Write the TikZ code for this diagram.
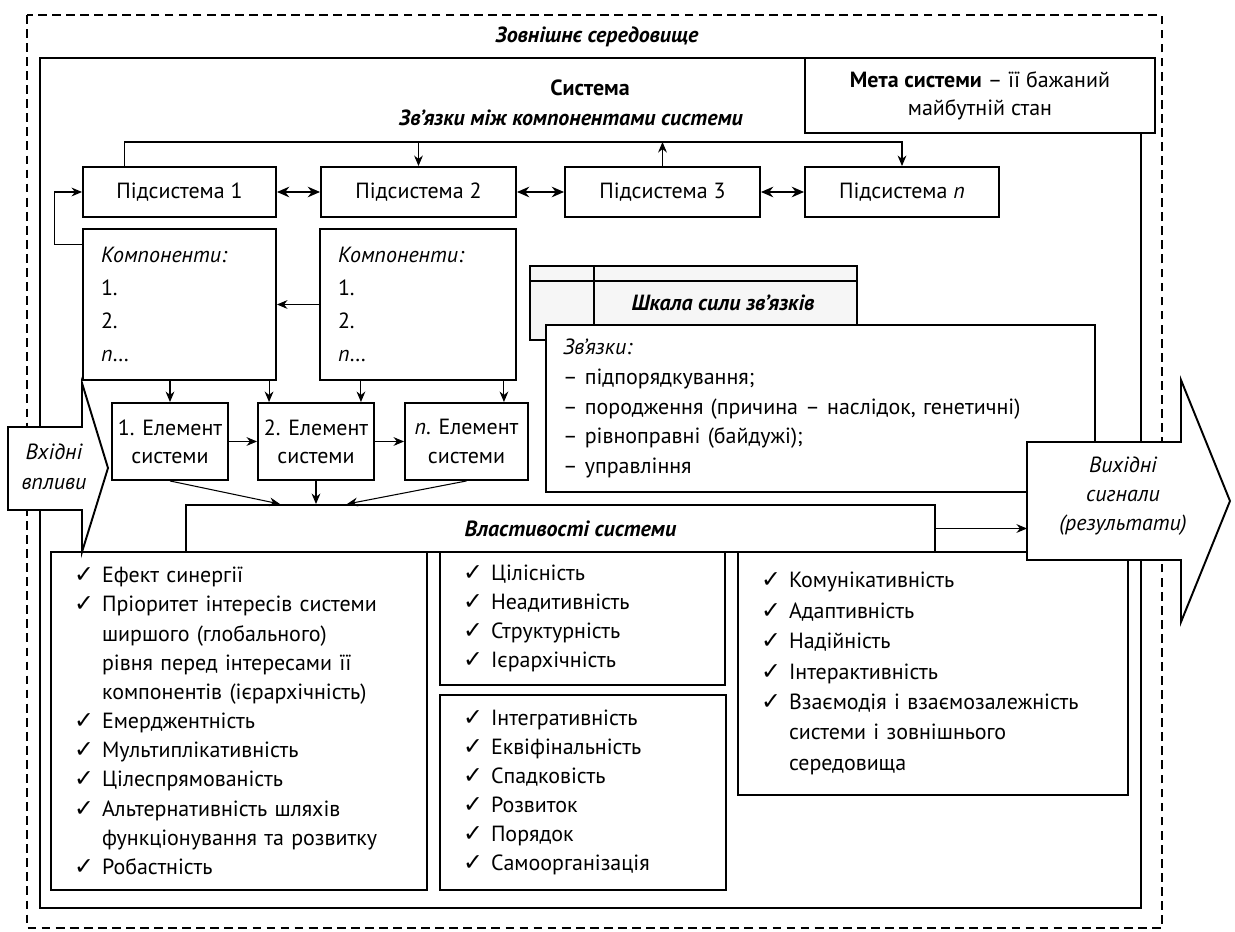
\documentclass[tikz,border=0pt]{standalone}
\usepackage{fontspec}
\setmainfont{PT Sans}
\newfontfamily\symfont{DejaVu Sans}
\usetikzlibrary{calc,arrows.meta}
\newcommand{\chk}{\makebox[0.56cm][l]{\symfont\fontsize{13.5}{12}\selectfont ✓}}
\newcommand{\ind}{\hspace*{0.56cm}}

\tikzset{
  box/.style={draw,line width=1.1pt,fill=white,inner sep=0pt,align=center},
  listbox/.style={draw,line width=1.1pt,fill=white,inner xsep=0.46cm,inner ysep=0pt,align=left,font=\fontsize{12.5}{16.6}\selectfont},
  heading/.style={font=\fontsize{12.5}{16}\selectfont\bfseries\itshape},
  conn/.style={line width=0.6pt,-{Stealth[length=6pt,width=5pt]}},
  dconn/.style={line width=1pt,{Stealth[length=7pt,width=6pt]}-{Stealth[length=7pt,width=6pt]}},
  flow/.style={line width=1.1pt,fill=white},
}

\begin{document}
\begin{tikzpicture}[x=0.02cm,y=-0.02cm,font=\fontsize{12.5}{16}\selectfont]
\useasboundingbox (0,0) rectangle (1235,932);

% environment and system
\draw[line width=1.1pt,dash pattern=on 5pt off 3pt] (27,15) rectangle (1162,928);
\draw[line width=1.1pt] (40,58) rectangle (1141,908);
\node[heading] (env) at (597,37) {Зовнішнє середовище};
\node[font=\fontsize{12.5}{16}\selectfont\bfseries] (sys) at (590,88) {Система};
\node[heading] (links) at (571,118) {Зв’язки між компонентами системи};
\node[box,minimum width=7cm,minimum height=1.5cm] (goal) at (980,95.5) {\textbf{Мета системи} – її бажаний\\майбутній стан};

% subsystems
\node[box,minimum width=3.86cm,minimum height=1cm] (sub1) at (179.5,192) {Підсистема 1};
\node[box,minimum width=3.9cm,minimum height=1cm] (sub2) at (418.5,192) {Підсистема 2};
\node[box,minimum width=3.9cm,minimum height=1cm] (sub3) at (662.5,192) {Підсистема 3};
\node[box,minimum width=3.88cm,minimum height=1cm] (subn) at (902,192) {Підсистема \textit{n}};
\coordinate (bus) at (0,142);
\draw[conn] ($(sub1.north west)+(42,0)$) |- (bus -| subn.north) -- (subn.north);
\draw[conn] (bus -| sub2.north) -- (sub2.north);
\draw[conn] (sub3.north) -- (bus -| sub3.north);
\draw[dconn] (sub1) -- (sub2);
\draw[dconn] (sub2) -- (sub3);
\draw[dconn] (sub3) -- (subn);

% components
\node[box,minimum width=3.86cm,minimum height=3.02cm,align=left,inner xsep=0.36cm,text width=3.14cm,font=\fontsize{12.5}{18.7}\selectfont] (comp1) at (179.5,304.5) {\textit{Компоненти:}\\1.\\2.\\\textit{n}…};
\node[box,minimum width=3.92cm,minimum height=3.02cm,align=left,inner xsep=0.36cm,text width=3.2cm,font=\fontsize{12.5}{18.7}\selectfont] (comp2) at (418,304.5) {\textit{Компоненти:}\\1.\\2.\\\textit{n}…};
\draw[conn] ($(comp1.north west)+(0,16)$) -- ++(-28,0) |- (sub1.west);
\draw[conn] (comp2) -- (comp1);

% elements
\node[box,minimum width=2.32cm,minimum height=1.54cm] (el1) at (170,441.5) {1. Елемент\\системи};
\node[box,minimum width=2.32cm,minimum height=1.54cm] (el2) at (316,441.5) {2. Елемент\\системи};
\node[box,minimum width=2.46cm,minimum height=1.54cm] (eln) at (466.5,441.5) {\textit{n}. Елемент\\системи};
\draw[conn] (el1) -- (el2);
\draw[conn] (el2) -- (eln);
\coordinate (a2) at ($(el2.north west)+(12,0)$);
\coordinate (b2) at ($(el2.north east)+(-14,0)$);
\coordinate (bn) at ($(eln.north east)+(-25,0)$);
\draw[conn] (el1.north |- comp1.south) -- (el1.north);
\draw[conn] (a2 |- comp1.south) -- (a2);
\draw[conn] (b2 |- comp2.south) -- (b2);
\draw[conn] (bn |- comp2.south) -- (bn);

% properties
\node[box,minimum width=14.98cm,minimum height=0.94cm,heading] (props) at (560.5,528.5) {\hspace*{0.4cm}Властивості системи};
\coordinate (p2) at (el2.south |- props.north);
\coordinate (p1) at ($(p2)+(-36,0)$);
\coordinate (p3) at ($(p2)+(31,0)$);
\draw[conn] (el1.south) -- (p1);
\draw[conn] (el2.south) -- (p2);
\draw[conn] (eln.south) -- (p3);

% scale of links
\draw[line width=0.9pt,fill=gray!7] (530,266) rectangle (857,340);
\draw[line width=0.9pt] (530,281) -- (857,281) (594,266) -- (594,340);
\node[heading] (scale) at (723,303) {Шкала сили зв’язків};
\node[box,minimum width=10.98cm,minimum height=3.34cm,align=left,inner xsep=0.34cm,text width=10.3cm,font=\fontsize{12.5}{17}\selectfont] (kinds) at (820.5,408.5) {\textit{Зв’язки:}\\– підпорядкування;\\– породження (причина – наслідок, генетичні)\\– рівноправні (байдужі);\\– управління};

% lists
\node[listbox,minimum width=7.52cm,minimum height=6.76cm,text width=6.6cm] (list1) at (239,721) {\chk Ефект синергії\\\chk Пріоритет інтересів системи\\\ind ширшого (глобального)\\\ind рівня перед інтересами її\\\ind компонентів (ієрархічність)\\\chk Емерджентність\\\chk Мультиплікативність\\\chk Цілеспрямованість\\\chk Альтернативність шляхів\\\ind функціонування та розвитку\\\chk Робастність};
\node[listbox,minimum width=5.7cm,minimum height=2.66cm,text width=4.78cm] (list2) at (582.5,618.5) {\chk Цілісність\\\chk Неадитивність\\\chk Структурність\\\chk Ієрархічність};
\node[listbox,minimum width=5.72cm,minimum height=3.9cm,text width=4.8cm] (list3) at (583,792.5) {\chk Інтегративність\\\chk Еквіфінальність\\\chk Спадковість\\\chk Розвиток\\\chk Порядок\\\chk Самоорганізація};
\node[listbox,minimum width=7.8cm,minimum height=4.86cm,text width=6.88cm,font=\fontsize{12.5}{17.3}\selectfont] (list4) at (933,673.5) {\chk Комунікативність\\\chk Адаптивність\\\chk Надійність\\\chk Інтерактивність\\\chk Взаємодія і взаємозалежність\\\ind системи і зовнішнього\\\ind середовища};

% inputs and outputs
\draw[flow] (8,427) -- (82,427) -- (82,383) -- (108,468) -- (82,552) -- (82,510) -- (8,510) -- cycle;
\node[align=center,font=\fontsize{12.5}{17}\selectfont\itshape] (inflow) at (54,467) {Вхідні\\впливи};
\draw[flow] (1027,442) -- (1181,442) -- (1181,380) -- (1230,501) -- (1181,622) -- (1181,560) -- (1027,560) -- cycle;
\node[align=center,font=\fontsize{12.5}{16.5}\selectfont\itshape] (outflow) at (1123,496) {Вихідні\\сигнали\\(результати)};
\coordinate (outw) at (1027,501);
\draw[conn] (props.east) -- (props.east -| outw);
\end{tikzpicture}
\end{document}
